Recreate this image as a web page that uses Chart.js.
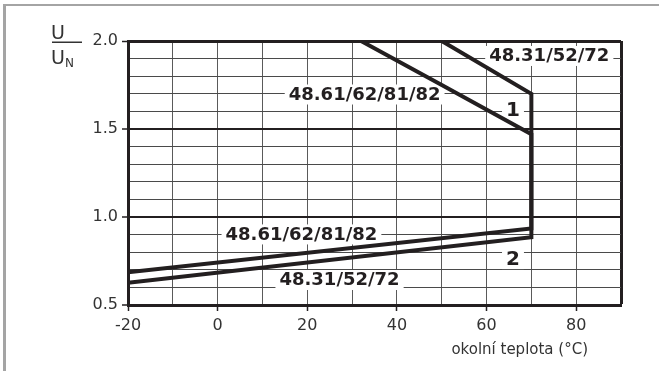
<!DOCTYPE html>
<html><head><meta charset="utf-8">
<script src="https://cdn.jsdelivr.net/npm/chart.js@4/dist/chart.umd.min.js"></script>
<style>html,body{margin:0;padding:0;background:#fff;overflow:hidden}#wrap{width:659px;height:371px;position:relative}</style>
</head><body><div id="wrap"><canvas id="c"></canvas></div>
<script>
// ---- data ----
const xTickLabels = ['-20','0','20','40','60','80'];
const yTickLabels = ['0.5','1.0','1.5','2.0'];
const seriesNames = ['48.31/52/72', '48.61/62/81/82'];
// 48.31/52/72 : upper limit (1) -> vertical at 70 °C -> lower limit (2)
const tempA  = [50, 70, 70, -20];
const ratioA = [2.0, 1.70, 0.885, 0.627];
// 48.61/62/81/82
const tempB  = [32, 50, 70, 70, -20];
const ratioB = [2.0, 1.75, 1.47, 0.935, 0.686];
// annotation texts and their anchors in data units (temperature, U/UN)
const noteTexts  = ['48.31/52/72', '48.61/62/81/82', '1', '2', '48.61/62/81/82', '48.31/52/72'];
const noteTemps  = [74.0, 32.8, 65.9, 65.9, 18.7, 27.2];
const noteRatios = [1.915, 1.696, 1.608, 0.761, 0.901, 0.642];
const xTitle = 'okolní teplota (°C)';

const INK = '#231f20';
const toPts = (xs, ys) => xs.map((x, i) => ({x: x, y: ys[i]}));

const deco = {
  id: 'deco',
  beforeDraw(chart) {
    const ctx = chart.ctx;
    ctx.save();
    ctx.fillStyle = '#fff';
    ctx.fillRect(0, 0, chart.width, chart.height);
    ctx.fillStyle = '#a4a4a4';
    ctx.fillRect(4, 4, chart.width - 4, 2);
    ctx.fillRect(3, 4, 3, chart.height - 4);
    ctx.restore();
  },
  beforeDatasetsDraw(chart) {
    const ctx = chart.ctx, xs = chart.scales.x, ys = chart.scales.y;
    ctx.save();
    ctx.textAlign = 'center';
    ctx.textBaseline = 'middle';
    noteTexts.forEach((t, i) => {
      const big = t.length === 1;
      ctx.font = 'bold ' + (big ? 20 : 18) + 'px "DejaVu Sans"';
      const cx = xs.getPixelForValue(noteTemps[i]);
      const cy = ys.getPixelForValue(noteRatios[i]);
      const w = ctx.measureText(t).width;
      ctx.fillStyle = '#fff';
      ctx.fillRect(cx - w / 2 - 4, cy - 10, w + 8, 20);
      ctx.fillStyle = INK;
      ctx.fillText(t, cx, cy + 0.5);
    });
    ctx.restore();
  },
  afterDraw(chart) {
    const ctx = chart.ctx;
    ctx.save();
    ctx.fillStyle = '#333';
    ctx.font = '15px "DejaVu Sans"';
    ctx.textAlign = 'right';
    ctx.textBaseline = 'middle';
    ctx.fillText(xTitle, 588, 350);
    // U / U_N
    ctx.textBaseline = 'alphabetic';
    ctx.textAlign = 'center';
    ctx.font = '19px "DejaVu Sans"';
    ctx.fillText('U', 58, 39);
    ctx.fillRect(52, 41.5, 30, 1.5);
    ctx.fillText('U', 58, 64);
    ctx.textAlign = 'left';
    ctx.font = '12px "DejaVu Sans"';
    ctx.fillText('N', 65, 67);
    ctx.restore();
  }
};

const isMajorY = v => Math.round(v * 10) % 5 === 0;

new Chart(document.getElementById('c'), {
  type: 'line',
  data: {
    datasets: [
      { label: seriesNames[0], data: toPts(tempA, ratioA), borderColor: INK, borderWidth: 4,
        pointRadius: 0, fill: false, tension: 0, borderJoinStyle: 'miter', borderCapStyle: 'butt' },
      { label: seriesNames[1], data: toPts(tempB, ratioB), borderColor: INK, borderWidth: 4,
        pointRadius: 0, fill: false, tension: 0, borderJoinStyle: 'miter', borderCapStyle: 'butt' }
    ]
  },
  options: {
    responsive: true, maintainAspectRatio: false, animation: false,
    layout: { padding: { top: 41, right: 38, bottom: 0, left: 0 } },
    plugins: { legend: { display: false }, tooltip: { enabled: false } },
    scales: {
      x: {
        type: 'linear', min: -20, max: 90,
        afterFit: s => { s.height = 66; },
        ticks: {
          stepSize: 10, autoSkip: false, maxRotation: 0, padding: 5,
          color: '#333', font: { family: 'DejaVu Sans', size: 16 },
          callback: v => xTickLabels.includes(String(v)) ? String(v) : ''
        },
        grid: {
          color: c => (c.tick && c.tick.value === 90) ? INK : '#5a5a5a',
          lineWidth: c => (c.tick && c.tick.value === 90) ? 3 : 1,
          tickLength: 6,
          tickColor: c => (c.tick && c.tick.value % 20 === 0) ? INK : 'rgba(0,0,0,0)',
          tickWidth: 1.5
        },
        border: { display: true, color: INK, width: 3 }
      },
      y: {
        type: 'linear', min: 0.5, max: 2.0,
        afterFit: s => { s.width = 128; },
        ticks: {
          stepSize: 0.1, autoSkip: false, padding: 4,
          color: '#333', font: { family: 'DejaVu Sans', size: 16 },
          callback: v => { const s = (Math.round(v * 10) / 10).toFixed(1); return yTickLabels.includes(s) ? s : ''; }
        },
        grid: {
          color: c => (c.tick && isMajorY(c.tick.value)) ? INK : '#4a4a4a',
          lineWidth: c => { if (!c.tick) return 1; const k = Math.round(c.tick.value * 10); return k === 20 ? 3 : (k % 5 === 0 ? 2 : 1); },
          tickLength: 6,
          tickColor: c => (c.tick && isMajorY(c.tick.value)) ? INK : 'rgba(0,0,0,0)',
          tickWidth: 1.5
        },
        border: { display: true, color: INK, width: 3 }
      }
    }
  },
  plugins: [deco]
});
</script></body></html>
